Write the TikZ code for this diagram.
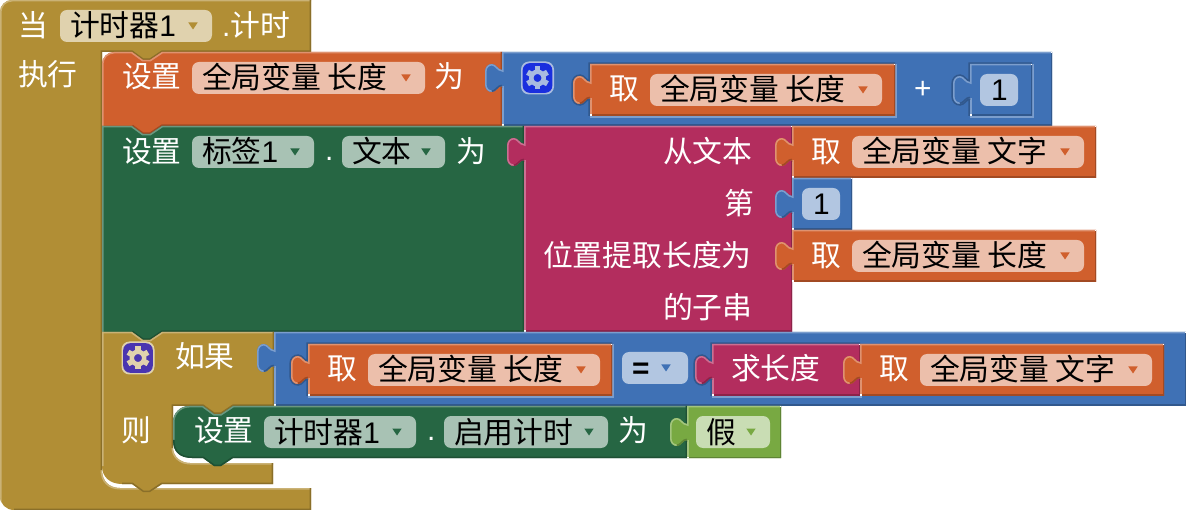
\documentclass[tikz,border=0pt]{standalone}
\usepackage{fontspec}
\setmainfont{Noto Sans CJK SC}
\newfontfamily\latinf{Liberation Sans}
\newcommand{\mkcol}[2]{\definecolor{#1}{HTML}{#2}\colorlet{#1L}{#1!68!white}\colorlet{#1D}{#1!78!black}\colorlet{#1P}{#1!40!white}}
\mkcol{gd}{B18E35}
\mkcol{og}{D05F2D}
\mkcol{bl}{3F71B5}
\mkcol{gr}{266643}
\mkcol{pk}{B32D5E}
\mkcol{lg}{78A942}
\definecolor{gearblue}{HTML}{1A2FDE}
\definecolor{gearpurple}{HTML}{4A35B0}
\definecolor{gearlight}{HTML}{A9BBE0}
\tikzset{
  txt/.style={anchor=base west,inner sep=0pt,outer sep=0pt,font=\fontsize{29.8}{30}\selectfont},
  edgeL/.style={line width=3pt},
  edgeD/.style={line width=3pt},
  sock/.style={line width=3.4pt},
}
\newcounter{tn}
\newcommand{\lbl}[4][white]{\stepcounter{tn}\node[txt,text=#1] (t\arabic{tn}) at (#2,{#3+11}) {#4};}
\newcommand{\tri}[3]{\fill[#1] ({#2-4.7},{#3-3.5}) -- ({#2+4.7},{#3-3.5}) -- (#2,{#3+3.5}) -- cycle;}
% dropdown pill: colour, x0, y0, x1, text
\newcommand{\dd}[5]{\fill[#1P,rounded corners=7pt] (#2,#3) rectangle (#4,{#3+32});
  \lbl[black]{#2+10}{#3+16}{#5}\tri{#1}{#4-19}{#3+16}}
\newcommand{\paint}[4]{\begin{scope}\fill[#1] #2;\path[clip] #2;
  \draw[#1L,edgeL] #3;\draw[#1D,edgeD] #4;\end{scope}}
% tab pieces for a block at x #1, top #2
\newcommand{\tabdefs}[2]{\pgfmathsetmacro{\cc}{#2+26}%
 \edef\tabup{({#1},{\cc+8}) .. controls ({#1-4},{\cc+8}) and ({#1-6},{\cc+14}) .. ({#1-10},{\cc+14})}%
 \edef\tabmid{.. controls ({#1-14},{\cc+14}) and ({#1-17},{\cc+11}) .. ({#1-17},{\cc+6}) -- ({#1-17},{\cc-6}) .. controls ({#1-17},{\cc-11}) and ({#1-14},{\cc-14}) .. ({#1-10},{\cc-14})}%
 \edef\tabtop{.. controls ({#1-6},{\cc-14}) and ({#1-4},{\cc-8}) .. ({#1},{\cc-8})}}
% value block with a left tab: colour, x0, y0, x1, y1
\newcommand{\vblock}[5]{\tabdefs{#2}{#3}%
 \begin{scope}
 \fill[#1] (#2,#3) -- (#4,#3) -- (#4,#5) -- (#2,#5) -- \tabup \tabmid \tabtop -- cycle;
 \path[clip] (#2,#3) -- (#4,#3) -- (#4,#5) -- (#2,#5) -- \tabup \tabmid \tabtop -- cycle;
 \draw[#1L,edgeL] (#2,#5) -- ({#2},{\cc+8});
 \draw[#1L,edgeL] ({#2-10},{\cc+14}) \tabmid \tabtop -- (#2,#3) -- (#4,#3);
 \draw[#1D,edgeD] (#4,#3) -- (#4,#5) -- (#2,#5);
 \draw[#1D,edgeD] \tabup;
 \end{scope}
 \fill[white] ({#4-1.5},#3) rectangle (#4,{#3+1.5});
 \fill[white] (#2,{#5-1.5}) rectangle ({#2+1.5},#5);}
% value block inside a socket of the parent: parent, colour, x0, y0, x1, y1
\newcommand{\vin}[6]{\tabdefs{#3}{#4}%
 \draw[#1D,sock] (#3,#6) -- \tabup \tabmid \tabtop -- (#3,#4) -- (#5,#4);
 \draw[#1L,sock] (#5,#4) -- (#5,#6) -- (#3,#6);
 \vblock{#2}{#3}{#4}{#5}{#6}}
\newcommand{\gear}[4]{% x, y centre, fill, light
 \fill[#4,rounded corners=8pt] ({#1-16.5},{#2-16.5}) rectangle ({#1+16.5},{#2+16.5});
 \fill[#3,rounded corners=7pt] ({#1-14.8},{#2-14.8}) rectangle ({#1+14.8},{#2+14.8});
 \draw[#4,line width=4.5pt] (#1,#2) circle[radius=6.2pt];
 \foreach \a in {0,60,...,300}{\fill[#4,shift={(#1,#2)},rotate=\a] (-2.8,-11.5) rectangle (2.8,-7);}}
\newcommand{\notchR}[2]{-- ({#1+30},#2) -- ({#1+41},{#2+8}) -- ({#1+48},{#2+8}) -- ({#1+60},#2)}
\newcommand{\notchL}[2]{-- ({#1+60},#2) -- ({#1+48},{#2+8}) -- ({#1+41},{#2+8}) -- ({#1+30},#2)}
\begin{document}
\begin{tikzpicture}[x=1pt,y=-1pt]
\useasboundingbox (0,0) rectangle (1186,510);
\fill[white] (0,0) rectangle (1186,510);
% event block
\paint{gd}{(0,12) arc[start angle=180,end angle=90,radius=12pt] -- (311,0) -- (311,52) \notchL{102}{52} -- (102,52) -- (102,470) .. controls (102,481) and (109,488) .. (120,488) -- (311,488) -- (311,510) -- (14,510) .. controls (6,510) and (0,504) .. (0,496) -- cycle}
 {(0,510) -- (0,12) arc[start angle=180,end angle=90,radius=12pt] -- (311,0) (102,470) .. controls (102,481) and (109,488) .. (120,488) -- (311,488)}
 {(311,0) -- (311,52) \notchL{102}{52} -- (102,52) -- (102,470) (311,488) -- (311,510) -- (14,510)}
\lbl{19}{26}{当}
\dd{gd}{60}{10}{212}{计时器{\latinf 1}}
\lbl{222}{26}{{\latinf .}计时}
\lbl{18}{75}{执行}
% set length
\paint{og}{(102,64) arc[start angle=180,end angle=90,radius=12pt] \notchR{102}{52} -- (502,52) -- (502,126) \notchL{102}{126} -- (102,126) -- cycle}
 {(102,126) -- (102,64) arc[start angle=180,end angle=90,radius=12pt] \notchR{102}{52} -- (502,52)}
 {(502,52) -- (502,126) \notchL{102}{126}}
\lbl{122}{77}{设置}
\dd{og}{192}{62}{425}{全局变量 长度}
\lbl{434}{77}{为}
% math add
\vblock{bl}{502}{52}{1052}{126}
\gear{537.5}{78}{gearblue}{gearlight}
\vin{bl}{og}{590}{64}{895}{116}
\lbl{609}{89}{取}
\dd{og}{650}{74}{882}{全局变量 长度}
\lbl{914}{88}{{\latinf +}}
\vin{bl}{bl}{970}{64}{1032}{116}
\fill[blP,rounded corners=7pt] (980,74) rectangle (1018,106);
\lbl[black]{991}{90}{{\latinf 1}}
% set label text
\paint{gr}{(102,126) \notchR{102}{126} -- (524,126) -- (524,332) \notchL{102}{332} -- (102,332) -- cycle}
 {(102,332) -- (102,126) \notchR{102}{126} -- (524,126)}
 {(524,126) -- (524,332) \notchL{102}{332}}
\lbl{122}{152}{设置}
\dd{gr}{192}{136}{314}{标签{\latinf 1}}
\lbl{325}{150}{{\latinf .}}
\dd{gr}{342}{136}{445}{文本}
\lbl{456}{152}{为}
% substring
\vblock{pk}{524}{126}{792}{332}
\lbl{663}{152}{从文本}
\lbl{724}{204}{第}
\lbl{543}{256}{位置提取长度为}
\lbl{663}{308}{的子串}
\vblock{og}{792}{126}{1096}{178}
\lbl{811}{152}{取}
\dd{og}{852}{136}{1084}{全局变量 文字}
\vblock{bl}{792}{178}{852}{230}
\fill[blP,rounded corners=7pt] (802,188) rectangle (840,220);
\lbl[black]{813}{204}{{\latinf 1}}
\vblock{og}{792}{230}{1096}{282}
\lbl{811}{256}{取}
\dd{og}{852}{240}{1084}{全局变量 长度}
% if block
\paint{gd}{(102,332) \notchR{102}{332} -- (274,332) -- (274,406) \notchL{173}{406} -- (173,406) -- (173,448) .. controls (173,456) and (180,463) .. (190,463) -- (273,463) -- (273,484) \notchL{102}{484} -- (122,484) .. controls (110,484) and (102,477) .. (102,466) -- cycle}
 {(102,466) -- (102,332) \notchR{102}{332} -- (274,332) (173,448) .. controls (173,456) and (180,463) .. (190,463) -- (273,463)}
 {(274,332) -- (274,406) \notchL{173}{406} -- (173,406) -- (173,448) (273,463) -- (273,484) \notchL{102}{484} -- (122,484)}
\gear{138}{358}{gearpurple}{gdP}
\lbl{175}{357}{如果}
\lbl{121}{430}{则}
% if condition
\vblock{bl}{274}{332}{1186}{406}
\vin{bl}{og}{308}{344}{612}{396}
\lbl{327}{369}{取}
\dd{og}{368}{354}{600}{全局变量 长度}
\fill[blP,rounded corners=7pt] (622,352) rectangle (688,384);
\lbl[black]{632}{368}{{\latinf\bfseries =}}
\tri{bl}{666}{368}
\vin{bl}{pk}{712}{344}{860}{396}
\lbl{731}{369}{求长度}
\vblock{og}{860}{344}{1164}{396}
\lbl{879}{369}{取}
\dd{og}{920}{354}{1152}{全局变量 文字}
% set timer
\paint{gr}{(173,422) arc[start angle=180,end angle=90,radius=16pt] \notchR{173}{406} -- (687,406) -- (687,458) \notchL{173}{458} -- (192,458) .. controls (180,458) and (173,452) .. (173,440) -- cycle}
 {(173,440) -- (173,422) arc[start angle=180,end angle=90,radius=16pt] \notchR{173}{406} -- (687,406)}
 {(687,406) -- (687,458) \notchL{173}{458} -- (192,458) .. controls (180,458) and (173,452) .. (173,440)}
\lbl{194}{431}{设置}
\dd{gr}{264}{416}{416}{计时器{\latinf 1}}
\lbl{427}{429}{{\latinf .}}
\dd{gr}{444}{416}{608}{启用计时}
\lbl{618}{431}{为}
\vblock{lg}{687}{406}{781}{458}
\dd{lg}{696}{416}{770}{假}
\end{tikzpicture}
\end{document}
